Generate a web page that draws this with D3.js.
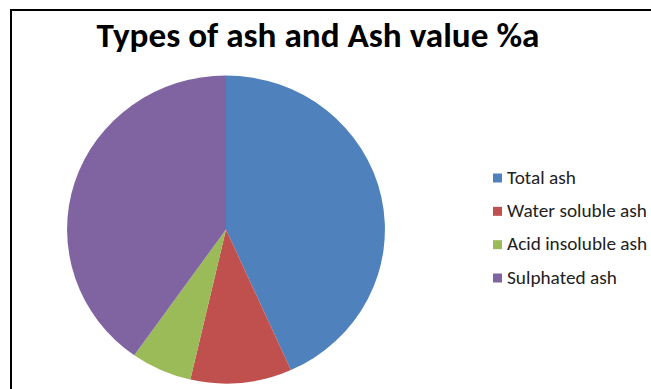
<!DOCTYPE html>
<html>
<head>
<meta charset="utf-8">
<script src="https://cdn.jsdelivr.net/npm/d3@7"></script>
<style>
	body { margin: 0; background: #fff; }
	text { font-family: Carlito, Calibri, "Open Sans", "Liberation Sans", sans-serif; }
</style>
</head>
<body>
<svg width="651" height="389"></svg>
<script>
// values (share of the pie, %)
var categories = ['Total ash', 'Water soluble ash', 'Acid insoluble ash', 'Sulphated ash']
var values = [43.3, 10.3, 6.2, 40.2]
var colors = ['#4F81BD', '#C0504D', '#9BBB59', '#8064A2']
var title = 'Types of ash and Ash value %a'

var svg = d3.select('svg')

// frame (only top and left edges show in the crop)
svg.append('line').attr('x1', 10).attr('y1', 10).attr('x2', 651).attr('y2', 10)
	.attr('stroke', '#000').attr('stroke-width', 2)
svg.append('line').attr('x1', 11).attr('y1', 10).attr('x2', 11).attr('y2', 389)
	.attr('stroke', '#000').attr('stroke-width', 2)

// title, sized to fit the width it takes in the reference
var t = svg.append('text')
	.attr('x', 318).attr('y', 47)
	.attr('text-anchor', 'middle')
	.attr('font-weight', 'bold')
	.attr('font-size', 30)
	.text(title)
var tw = t.node().getComputedTextLength()
t.attr('font-size', 30 * 443 / tw)

var data = categories.map(function(c, i) { return {name: c, value: values[i], color: colors[i]} })

var pie = d3.pie().sort(null).value(function(d) { return d.value })
var arc = d3.arc().innerRadius(0).outerRadius(154)

// pie is slightly stretched sideways in the picture
var g = svg.append('g')
	.attr('transform', 'translate(226,229.5) scale(1.032,1)')

g.selectAll('path')
	.data(pie(data))
	.enter().append('path')
		.attr('d', arc)
		.attr('fill', function(d) { return d.data.color })

// legend
var legend = svg.append('g').attr('transform', 'translate(493,0)')
var rowY = d3.scalePoint().domain(categories).range([178.5, 278.5])

var item = legend.selectAll('g')
	.data(data)
	.enter().append('g')
		.attr('transform', function(d) { return 'translate(0,' + rowY(d.name) + ')' })

item.append('rect')
	.attr('x', 0).attr('y', -5).attr('width', 9).attr('height', 9)
	.attr('fill', function(d) { return d.color })

var labels = item.append('text')
	.attr('x', 14).attr('y', 5)
	.attr('font-size', 15)
	.attr('fill', '#222')
	.text(function(d) { return d.name })

// fit "Water soluble ash" to ~140px like the reference
var lw = labels.filter(function(d) { return d.name == 'Water soluble ash' }).node().getComputedTextLength()
labels.attr('font-size', 15 * 140 / lw)
</script>
</body>
</html>
